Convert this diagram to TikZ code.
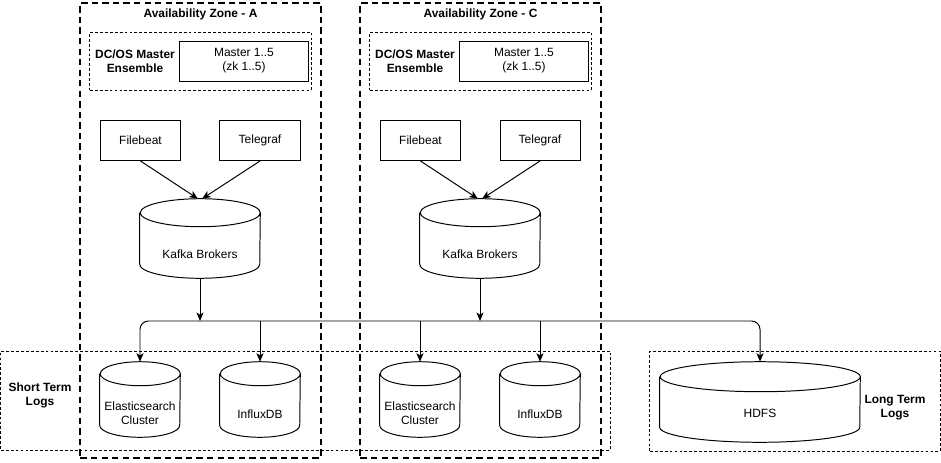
\documentclass[tikz,border=0pt]{standalone}
\usepackage{fontspec}
\setmainfont{Liberation Sans}
\usepackage{tikz}
\usetikzlibrary{positioning, arrows.meta}
\tikzstyle{arrow} = [line width=0.7pt,-{Stealth[length=6pt,width=5pt,inset=1.5pt]}]
\tikzstyle{arrows2} = [line width=0.7pt,{Stealth[length=6pt,width=5pt,inset=1.5pt]}-{Stealth[length=6pt,width=5pt,inset=1.5pt]}]

% outline of a data store node: name, half width, half height of the ellipse
\newcommand{\dbborder}[3]{%
    \draw [dbline] ([yshift=-#3]#1.north west) -- ([yshift=#3]#1.south west)
        arc[start angle=180, end angle=360, x radius=#2, y radius=#3]
        -- ([yshift=-#3]#1.north east)
        arc[start angle=0, end angle=360, x radius=#2, y radius=#3];
}

\begin{document}
\begin{tikzpicture}[
        x=0.025cm, y=-0.025cm,
        font=\fontsize{8.5}{10}\selectfont,
        % Styles
        zone/.style={% For the availability zones
            rectangle,
            draw,
            line width=1.4pt,
            dash pattern=on 4.5pt off 3pt,
            minimum width=6cm,
            minimum height=11.375cm,
            },
        group/.style={% For the dashed groups
            rectangle,
            draw,
            line width=0.7pt,
            dash pattern=on 2pt off 1.5pt,
            },
        box/.style={% For the plain boxes
            rectangle,
            draw,
            line width=0.7pt,
            minimum width=2cm,
            minimum height=1cm,
            align=center,
            },
        db/.style={% For the data stores (outline drawn by \dbborder)
            rectangle,
            inner sep=0pt,
            },
        dbline/.style={% For the data store outline
            line width=0.7pt,
            line join=round,
            },
        dbtext/.style={% Text sitting in the body of a data store
            align=center,
            font=\fontsize{8.5}{9.5}\selectfont,
            },
        mylabel/.style={% Bold titles
            font=\fontsize{8.5}{10}\selectfont\bfseries,
            align=center,
            },
        ]

    \useasboundingbox (0,0) rectangle (941,462);

    % Nodes
        % Draw the zones and the groups
        \node [zone] (zoneA) at (200.5,230.5) {};
        \node [zone] (zoneC) at (480.5,230.5) {};
        \node [group, minimum width=15.225cm, minimum height=2.475cm] (short) at (305.5,400.5) {};
        \node [group, minimum width=7.25cm, minimum height=2.5cm] (long) at (795,401) {};
        \node [group, minimum width=5.525cm, minimum height=1.45cm] (ensA) at (200.5,61) {};
        \node [group, minimum width=5.525cm, minimum height=1.45cm] (ensC) at (480.5,61) {};

        % Titles
        \node [mylabel] (titleA) at (200.5,14) {Availability Zone - A};
        \node [mylabel] (titleC) at (480.5,14) {Availability Zone - C};
        \node [mylabel] (ensLabelA) at (135,61) {DC/OS Master\\Ensemble};
        \node [mylabel] (ensLabelC) at (415,61) {DC/OS Master\\Ensemble};
        \node [mylabel] (shortLabel) at (40,395) {Short Term\\Logs};
        \node [mylabel] (longLabel) at (895,408) {Long Term\\Logs};

        % Draw the boxes
        \node [box, minimum width=3.2cm] (masterA) at (244,61) {Master 1..5\\(zk 1..5)};
        \node [box, minimum width=3.2cm] (masterC) at (524,61) {Master 1..5\\(zk 1..5)};
        \node [box] (filebeatA) at (140.5,140.5) {Filebeat};
        \node [box] (telegrafA) at (260,140.5) {Telegraf};
        \node [box] (filebeatC) at (420.5,140.5) {Filebeat};
        \node [box] (telegrafC) at (540,140.5) {Telegraf};

        % Draw the data stores, text lowered into the body
        \node [db, minimum width=3cm, minimum height=1.975cm,
               label={[dbtext, yshift=-0.39cm]center:Kafka Brokers}] (kafkaA) at (200,238.5) {};
        \node [db, minimum width=3cm, minimum height=1.975cm,
               label={[dbtext, yshift=-0.39cm]center:Kafka Brokers}] (kafkaC) at (480,238.5) {};
        \node [db, minimum width=2cm, minimum height=1.875cm,
               label={[dbtext, yshift=-0.34cm]center:Elasticsearch\\Cluster}] (esA) at (140,399.5) {};
        \node [db, minimum width=2cm, minimum height=1.875cm,
               label={[dbtext, yshift=-0.36cm]center:InfluxDB}] (influxA) at (260,399.5) {};
        \node [db, minimum width=2cm, minimum height=1.875cm,
               label={[dbtext, yshift=-0.34cm]center:Elasticsearch\\Cluster}] (esC) at (420,399.5) {};
        \node [db, minimum width=2cm, minimum height=1.875cm,
               label={[dbtext, yshift=-0.36cm]center:InfluxDB}] (influxC) at (540,399.5) {};
        \node [db, minimum width=5cm, minimum height=2cm,
               label={[dbtext, yshift=-0.28cm]center:HDFS}] (hdfs) at (760,402) {};

        \dbborder{kafkaA}{1.5cm}{0.35cm}
        \dbborder{kafkaC}{1.5cm}{0.35cm}
        \dbborder{esA}{1cm}{0.3cm}
        \dbborder{influxA}{1cm}{0.3cm}
        \dbborder{esC}{1cm}{0.3cm}
        \dbborder{influxC}{1cm}{0.3cm}
        \dbborder{hdfs}{2.5cm}{0.375cm}

        \coordinate (bus) at (450,321);

    % Connect all
        \draw [arrow] (filebeatA.south) -- ([xshift=-1.5pt]kafkaA.north);
        \draw [arrow] (telegrafA.south) -- ([xshift=1.5pt]kafkaA.north);
        \draw [arrow] (filebeatC.south) -- ([xshift=-1.5pt]kafkaC.north);
        \draw [arrow] (telegrafC.south) -- ([xshift=1.5pt]kafkaC.north);

        \draw [arrow] (kafkaA.south) -- (kafkaA.south |- bus);
        \draw [arrow] (kafkaC.south) -- (kafkaC.south |- bus);

        % The log bus
        \draw [arrows2, rounded corners=6pt] (esA.north) |- (bus) -| (hdfs.north);
        \draw [arrow] (influxA.north |- bus) -- (influxA.north);
        \draw [arrow] (esC.north |- bus) -- (esC.north);
        \draw [arrow] (influxC.north |- bus) -- (influxC.north);

\end{tikzpicture}
\end{document}
